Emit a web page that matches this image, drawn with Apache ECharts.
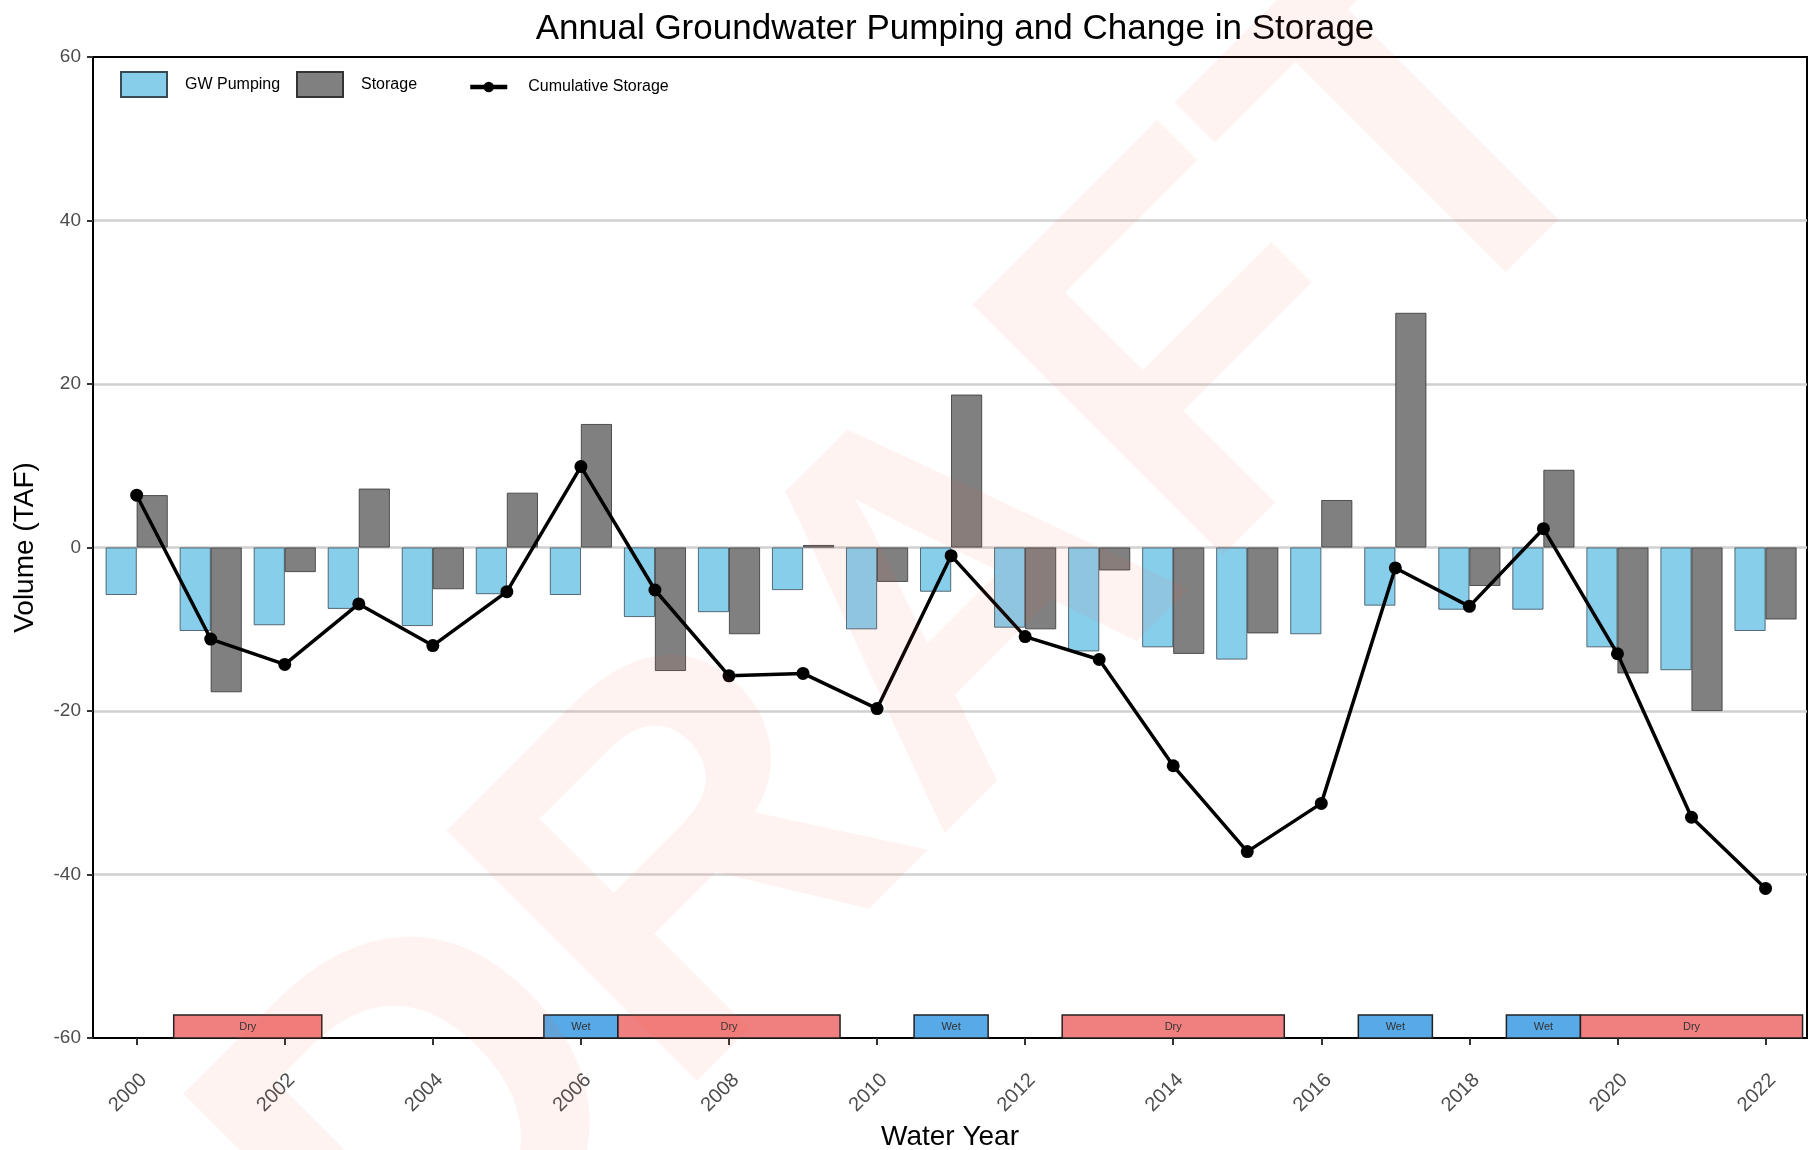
<!DOCTYPE html>
<html>
<head>
<meta charset="utf-8">
<title>Annual Groundwater Pumping and Change in Storage</title>
<script src="https://cdn.jsdelivr.net/npm/echarts@6/dist/echarts.min.js"></script>
<style>
  html, body { margin: 0; padding: 0; background: #fff; }
  #chart { width: 1814px; height: 1150px; }
</style>
</head>
<body>
<div id="chart"></div>
<script>
// water years
const years = [2000, 2001, 2002, 2003, 2004, 2005, 2006, 2007, 2008, 2009, 2010, 2011,
  2012, 2013, 2014, 2015, 2016, 2017, 2018, 2019, 2020, 2021, 2022]
// TAF
const gwPumping = [-5.8, -10.2, -9.5, -7.5, -9.6, -5.7, -5.8, -8.5, -7.9, -5.2, -10.0, -5.4,
  -9.8, -12.7, -12.2, -13.7, -10.6, -7.1, -7.6, -7.6, -12.2, -15.0, -10.2]
const storage = [6.4, -17.7, -3.0, 7.2, -5.1, 6.7, 15.1, -15.1, -10.6, 0.3, -4.2, 18.7,
  -10.0, -2.8, -13.0, -10.5, 5.8, 28.7, -4.7, 9.5, -15.4, -20.0, -8.8]
const cumulative = [6.4, -11.2, -14.3, -6.9, -12.0, -5.4, 9.9, -5.2, -15.7, -15.4, -19.7, -1.0,
  -10.9, -13.7, -26.7, -37.2, -31.3, -2.5, -7.2, 2.3, -13.0, -33.0, -41.7]
// wet / dry year types
const periodStart = [2000.5, 2005.5, 2006.5, 2010.5, 2012.5, 2016.5, 2018.5, 2019.5]
const periodEnd = [2002.5, 2006.5, 2009.5, 2011.5, 2015.5, 2017.5, 2019.5, 2022.5]
const periodType = ['Dry', 'Wet', 'Dry', 'Wet', 'Dry', 'Wet', 'Wet', 'Dry']
const xTicks = [2000, 2002, 2004, 2006, 2008, 2010, 2012, 2014, 2016, 2018, 2020, 2022]

const FONT = '"Liberation Sans", Arial, sans-serif'
const periodColor = { Dry: '#F08080', Wet: '#57A9E7' }

let myChart = echarts.init(document.getElementById('chart'))
myChart.setOption({
  animation: false,
  textStyle: { fontFamily: FONT },
  title: {
    text: 'Annual Groundwater Pumping and Change in Storage',
    // centred over the plot area, not the page
    left: 950,
    textAlign: 'center',
    top: 7,
    textStyle: { color: '#000', fontSize: 35, fontWeight: 'normal', fontFamily: FONT },
  },
  legend: [
    {
      data: ['GW Pumping'],
      left: 115, top: 66,
      icon: 'rect',
      itemWidth: 46, itemHeight: 25,
      textStyle: { fontSize: 16, color: '#000', padding: [0, 0, 0, 13] },
    },
    {
      data: ['Storage'],
      left: 291, top: 66,
      icon: 'rect',
      itemWidth: 46, itemHeight: 25,
      textStyle: { fontSize: 16, color: '#000', padding: [0, 0, 0, 13] },
    },
    {
      data: [{ name: 'Cumulative Storage', lineStyle: { width: 4.5 } }],
      left: 463, top: 74,
      itemWidth: 37, itemHeight: 13,
      textStyle: { fontSize: 16, color: '#000', padding: [0, 0, 0, 16] },
    },
  ],
  grid: {
    left: 93,
    right: 7,
    top: 57,
    bottom: 112,
    outerBoundsMode: 'none',
    show: true,
    borderColor: '#000',
    borderWidth: 2,
    backgroundColor: 'transparent',
  },
  xAxis: {
    type: 'value',
    min: 1999.41,
    max: 2022.56,
    name: 'Water Year',
    nameLocation: 'middle',
    nameGap: 85,
    nameTextStyle: { fontSize: 28, color: '#000' },
    axisLine: { show: true, onZero: false, lineStyle: { color: '#000', width: 2 } },
    axisTick: { show: true, customValues: xTicks, length: 7, lineStyle: { color: '#333', width: 2 } },
    axisLabel: {
      customValues: xTicks,
      rotate: 45,
      margin: 32,
      fontSize: 20,
      color: '#4d4d4d',
      verticalAlign: 'top',
      formatter: (v) => String(v),
    },
    splitLine: { show: false },
  },
  yAxis: {
    type: 'value',
    min: -60,
    max: 60,
    interval: 20,
    name: 'Volume (TAF)',
    nameLocation: 'middle',
    nameGap: 54,
    nameTextStyle: { fontSize: 28, color: '#000' },
    axisLine: { show: true, onZero: false, lineStyle: { color: '#000', width: 2 } },
    axisTick: { show: true, length: 6, lineStyle: { color: '#333', width: 2 } },
    axisLabel: { fontSize: 19, color: '#4d4d4d', margin: 12 },
    splitLine: {
      show: true,
      showMinLine: false,
      showMaxLine: false,
      lineStyle: { color: '#d0d0d0', width: 2.5 },
    },
  },
  series: [
    {
      name: 'GW Pumping',
      type: 'bar',
      barWidth: 31,
      barGap: '0%',
      data: years.map((y, i) => [y, gwPumping[i]]),
      itemStyle: { color: '#87CEEB', borderColor: '#3a4a55', borderWidth: 0.8 },
      z: 2,
    },
    {
      name: 'Storage',
      type: 'bar',
      barWidth: 31,
      barGap: '0%',
      data: years.map((y, i) => [y, storage[i]]),
      itemStyle: { color: '#808080', borderColor: '#333', borderWidth: 0.8 },
      z: 2,
    },
    {
      name: 'Cumulative Storage',
      type: 'line',
      data: years.map((y, i) => [y, cumulative[i]]),
      symbol: 'circle',
      symbolSize: 13,
      lineStyle: { color: '#000', width: 3.5 },
      itemStyle: { color: '#000' },
      z: 5,
    },
    {
      name: 'Year Type',
      type: 'custom',
      data: periodStart.map((s, i) => [s, periodEnd[i]]),
      encode: { x: [0, 1] },
      z: 4,
      renderItem: function (params, api) {
        const p0 = api.coord([api.value(0), -60])
        const p1 = api.coord([api.value(1), -57.2])
        const t = periodType[params.dataIndex]
        return {
          type: 'rect',
          shape: { x: p0[0], y: p1[1], width: p1[0] - p0[0], height: p0[1] - p1[1] },
          style: { fill: periodColor[t], stroke: '#222', lineWidth: 1.5 },
          textContent: { style: { text: t, fontSize: 11, fill: '#333', fontFamily: FONT } },
          textConfig: { position: 'inside' },
        }
      },
    },
  ],
  graphic: [
    {
      type: 'text',
      z: 100,
      x: 926,
      y: 651,
      rotation: Math.PI / 4,
      silent: true,
      style: {
        text: 'DRAFT',
        font: 'bold 515px "Liberation Sans", Arial, sans-serif',
        fill: 'rgba(255, 80, 60, 0.07)',
        align: 'center',
        verticalAlign: 'middle',
      },
    },
  ],
})
</script>
</body>
</html>
